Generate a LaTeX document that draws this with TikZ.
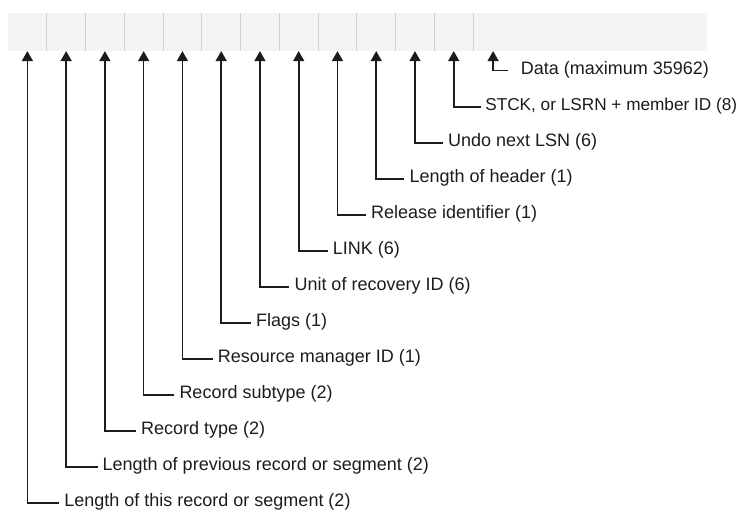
\documentclass[tikz,border=0pt]{standalone}
\usepackage{fontspec}
\setmainfont{Liberation Sans}
\usepackage{tikz}
\usetikzlibrary{
  arrows.meta,
  positioning
}
\usepackage{xcolor}
\definecolor{barfill}{RGB}{244,244,244}
\definecolor{barline}{RGB}{208,208,208}
\definecolor{inkclr}{RGB}{28,28,28}
\tikzset{
  % Yozuv maydonlari (record fields)
  cellbox/.style  = {rectangle, fill=barfill, inner sep=0pt, anchor=north west,
                     minimum width=38.36pt, minimum height=38pt},
  divline/.style  = {draw=barline, line width=0.9pt},
  % Ko'rsatkich chiziqlari
  leadline/.style = {-{Triangle[width=11pt,length=10pt]}, line width=1.6pt, draw=inkclr},
  % Etiketlar
  fieldlab/.style = {anchor=west, inner xsep=5pt, inner ysep=0pt, text=inkclr,
                     text height=0.75em, text depth=0pt,
                     font=\fontsize{18}{22}\selectfont},
}

\begin{document}
\begin{tikzpicture}[x=1pt, y=-1pt]
  \useasboundingbox (0,0) rectangle (743,513);
  % yozuv sarlavhasi: 12 ta kichik maydon + ma'lumot
  \node[cellbox] (c1) at (8,12.7) {};
  \node[cellbox, right=0pt of c1] (c2) {};
  \node[cellbox, right=0pt of c2] (c3) {};
  \node[cellbox, right=0pt of c3] (c4) {};
  \node[cellbox, right=0pt of c4] (c5) {};
  \node[cellbox, right=0pt of c5] (c6) {};
  \node[cellbox, right=0pt of c6] (c7) {};
  \node[cellbox, right=0pt of c7] (c8) {};
  \node[cellbox, right=0pt of c8] (c9) {};
  \node[cellbox, right=0pt of c9] (c10) {};
  \node[cellbox, right=0pt of c10] (c11) {};
  \node[cellbox, right=0pt of c11] (c12) {};
  \node[cellbox, right=0pt of c12, minimum width=233.4pt] (c13) {};
  % ajratuvchi chiziqlar
  \draw[divline] (c1.north east) -- (c1.south east);
  \draw[divline] (c2.north east) -- (c2.south east);
  \draw[divline] (c3.north east) -- (c3.south east);
  \draw[divline] (c4.north east) -- (c4.south east);
  \draw[divline] (c5.north east) -- (c5.south east);
  \draw[divline] (c6.north east) -- (c6.south east);
  \draw[divline] (c7.north east) -- (c7.south east);
  \draw[divline] (c8.north east) -- (c8.south east);
  \draw[divline] (c9.north east) -- (c9.south east);
  \draw[divline] (c10.north east) -- (c10.south east);
  \draw[divline] (c11.north east) -- (c11.south east);
  \draw[divline] (c12.north east) -- (c12.south east);
  \coordinate (d13) at ([xshift=20pt]c13.south west);
  % maydon nomlari
  \node[fieldlab] (l1) at (59.2,503.1) {Length of this record or segment (2)};
  \node[fieldlab] (l2) at (97.5,467.0) {Length of previous record or segment (2)};
  \node[fieldlab] (l3) at (135.9,431.0) {Record type (2)};
  \node[fieldlab] (l4) at (174.3,395.0) {Record subtype (2)};
  \node[fieldlab] (l5) at (212.6,359.0) {Resource manager ID (1)};
  \node[fieldlab] (l6) at (251.0,323.0) {Flags (1)};
  \node[fieldlab] (l7) at (289.3,286.9) {Unit of recovery ID (6)};
  \node[fieldlab] (l8) at (327.7,250.9) {LINK (6)};
  \node[fieldlab] (l9) at (366.0,214.9) {Release identifier (1)};
  \node[fieldlab] (l10) at (404.4,178.8) {Length of header (1)};
  \node[fieldlab] (l11) at (442.8,142.8) {Undo next LSN (6)};
  \node[fieldlab, inner xsep=4pt, font=\fontsize{17.2}{21}\selectfont] (l12) at (481.1,106.8) {STCK, or LSRN + member ID (8)};
  \node[fieldlab, inner xsep=13pt] (l13) at (507.7,70.7) {Data (maximum 35962)};
  % ko'rsatkichlar
  \draw[leadline] (l1.west) -| (c1.south);
  \draw[leadline] (l2.west) -| (c2.south);
  \draw[leadline] (l3.west) -| (c3.south);
  \draw[leadline] (l4.west) -| (c4.south);
  \draw[leadline] (l5.west) -| (c5.south);
  \draw[leadline] (l6.west) -| (c6.south);
  \draw[leadline] (l7.west) -| (c7.south);
  \draw[leadline] (l8.west) -| (c8.south);
  \draw[leadline] (l9.west) -| (c9.south);
  \draw[leadline] (l10.west) -| (c10.south);
  \draw[leadline] (l11.west) -| (c11.south);
  \draw[leadline] (l12.west) -| (c12.south);
  \draw[leadline] (l13.west) -| (d13);
\end{tikzpicture}
\end{document}
